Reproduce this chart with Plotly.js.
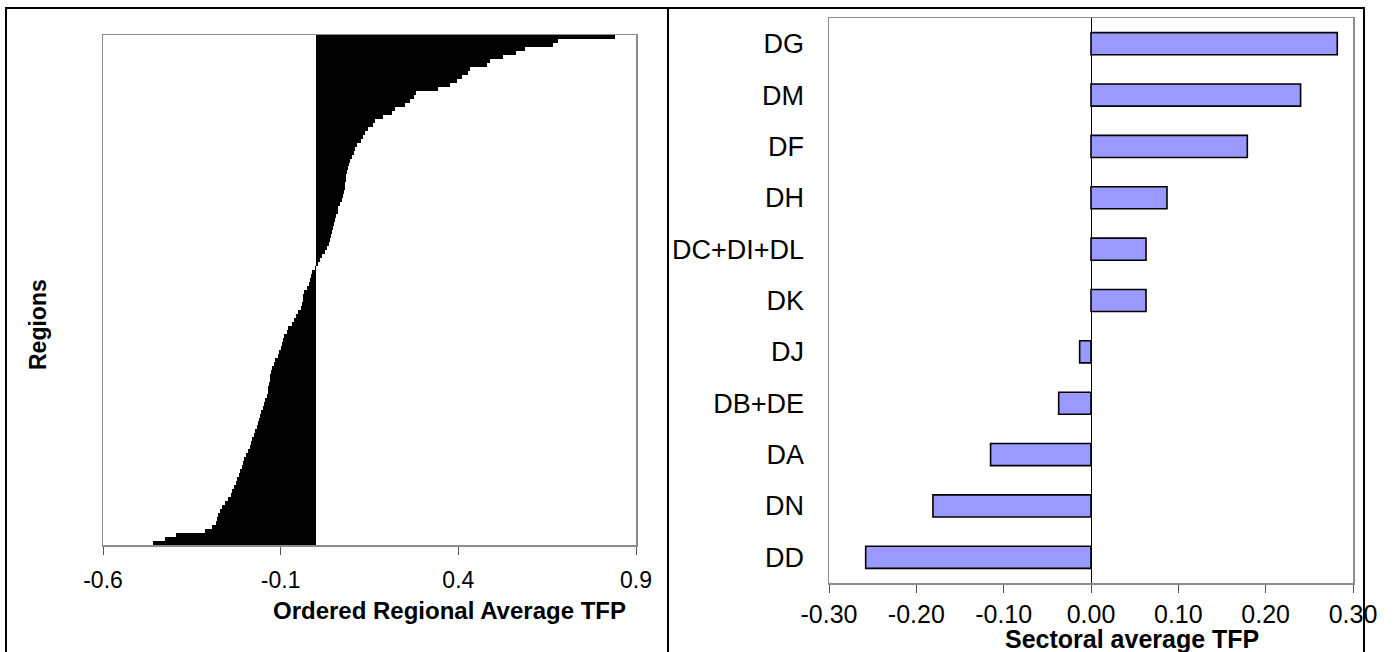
<!DOCTYPE html>
<html>
<head>
<meta charset="utf-8">
<script src="https://cdn.plot.ly/plotly-3.0.1.min.js"></script>
<style>
html,body{margin:0;padding:0;background:#fff;}
#chart{width:1394px;height:652px;}
</style>
</head>
<body>
<div id="chart"></div>
<script>
// Left panel: ordered regional average TFP (top bar first, descending)
const regionalTFP = [
  0.84, 0.68, 0.667, 0.588, 0.563, 0.527, 0.49, 0.482, 0.433, 0.426,
  0.41, 0.397, 0.377, 0.344, 0.281, 0.276, 0.265, 0.25, 0.222, 0.213,
  0.188, 0.165, 0.16, 0.147, 0.138, 0.133, 0.126, 0.115, 0.11, 0.105,
  0.10, 0.094, 0.092, 0.09, 0.087, 0.085, 0.084, 0.082, 0.08, 0.077,
  0.075, 0.073, 0.068, 0.062, 0.060, 0.057, 0.054, 0.051, 0.047, 0.045,
  0.043, 0.040, 0.037, 0.030, 0.024, 0.015, 0.010, 0.005,
  -0.004, -0.012, -0.015, -0.017, -0.021, -0.027, -0.033, -0.036, -0.038, -0.041,
  -0.043, -0.051, -0.058, -0.062, -0.069, -0.078, -0.083, -0.091, -0.093, -0.097,
  -0.100, -0.105, -0.108, -0.115, -0.118, -0.124, -0.127, -0.129, -0.131, -0.133,
  -0.135, -0.136, -0.138, -0.145, -0.148, -0.151, -0.155, -0.158, -0.161, -0.165,
  -0.168, -0.172, -0.175, -0.180, -0.183, -0.187, -0.193, -0.197, -0.203, -0.207,
  -0.209, -0.214, -0.217, -0.222, -0.226, -0.232, -0.236, -0.240, -0.247, -0.258,
  -0.266, -0.271, -0.277, -0.279, -0.281, -0.294, -0.313, -0.395, -0.426, -0.46
];
const leftTickVals = [-0.6, -0.1, 0.4, 0.9];
const leftTickText = ["-0.6", "-0.1", "0.4", "0.9"];

// Right panel: sectoral average TFP (top to bottom)
const sectors = ["DG", "DM", "DF", "DH", "DC+DI+DL", "DK", "DJ", "DB+DE", "DA", "DN", "DD"];
const sectorTFP = [0.282, 0.240, 0.179, 0.087, 0.063, 0.063, -0.013, -0.037, -0.115, -0.181, -0.258];
const rightTickVals = [-0.3, -0.2, -0.1, 0.0, 0.1, 0.2, 0.3];
const rightTickText = ["-0.30", "-0.20", "-0.10", "0.00", "0.10", "0.20", "0.30"];

const W = 1394, H = 652;
const px = v => v / W;
const py = v => 1 - v / H;
const FONT = "Liberation Sans, Arial, sans-serif";

const traces = [
  {
    type: "bar", orientation: "h",
    x: regionalTFP,
    xaxis: "x", yaxis: "y",
    marker: {color: "#000000", line: {width: 0}},
    hoverinfo: "x"
  },
  {
    type: "bar", orientation: "h",
    x: sectorTFP, y: sectors,
    xaxis: "x2", yaxis: "y2",
    width: 0.43,
    marker: {color: "#9999FF", line: {color: "#000000", width: 1.6}},
    hoverinfo: "x+y"
  }
];

const layout = {
  width: W, height: H,
  margin: {l: 0, r: 0, t: 0, b: 0},
  paper_bgcolor: "#ffffff", plot_bgcolor: "#ffffff",
  showlegend: false,
  bargap: 0,
  font: {family: FONT, size: 17, color: "#000"},
  xaxis: {
    domain: [px(103), px(636)],
    anchor: "y",
    range: [-0.6, 0.9],
    tickvals: leftTickVals, ticktext: leftTickText,
    ticks: "outside", ticklen: 8, tickcolor: "#555", tickwidth: 1,
    showline: true, linecolor: "#8c8c8c", linewidth: 1.5, mirror: true,
    showgrid: false, zeroline: false,
    ticklabelstandoff: 6,
    tickfont: {family: FONT, size: 23, color: "#000"}
  },
  yaxis: {
    domain: [py(545), py(35)],
    anchor: "x",
    range: [regionalTFP.length - 0.5, -0.5],
    showticklabels: false, ticks: "",
    showline: true, linecolor: "#8c8c8c", linewidth: 1.5, mirror: true,
    showgrid: false, zeroline: false
  },
  xaxis2: {
    domain: [px(829), px(1353)],
    anchor: "y2",
    range: [-0.3, 0.3],
    tickvals: rightTickVals, ticktext: rightTickText,
    ticks: "outside", ticklen: 8, tickcolor: "#555", tickwidth: 1,
    showline: true, linecolor: "#8c8c8c", linewidth: 1.5, mirror: true,
    showgrid: false,
    zeroline: true, zerolinecolor: "#000", zerolinewidth: 1,
    ticklabelstandoff: 0,
    tickfont: {family: FONT, size: 25, color: "#000"}
  },
  yaxis2: {
    domain: [py(583), py(18)],
    anchor: "x2",
    autorange: "reversed",
    type: "category",
    ticks: "", ticklabelstandoff: 18,
    showline: true, linecolor: "#8c8c8c", linewidth: 1.5, mirror: true,
    showgrid: false, zeroline: false,
    tickfont: {family: FONT, size: 27, color: "#000"}
  },
  annotations: [
    {text: "<b>Ordered Regional Average TFP</b>", xref: "paper", yref: "paper",
     x: px(628), y: py(610), xanchor: "right", yanchor: "middle", showarrow: false,
     font: {family: FONT, size: 24, color: "#000"}},
    {text: "<b>Sectoral average TFP</b>", xref: "paper", yref: "paper",
     x: px(1132), y: py(639), xanchor: "center", yanchor: "middle", showarrow: false,
     font: {family: FONT, size: 25, color: "#000"}},
    {text: "<b>Regions</b>", xref: "paper", yref: "paper",
     x: px(38), y: py(325), xanchor: "center", yanchor: "middle", showarrow: false,
     textangle: -90,
     font: {family: FONT, size: 23, color: "#000"}}
  ],
  shapes: [
    {type: "rect", xref: "paper", yref: "paper", layer: "above",
     x0: px(6), x1: px(1364), y0: -0.01, y1: py(8),
     line: {color: "#000", width: 2}, fillcolor: "rgba(0,0,0,0)"},
    {type: "line", xref: "paper", yref: "paper", layer: "above",
     x0: px(668), x1: px(668), y0: -0.01, y1: py(8),
     line: {color: "#000", width: 2}}
  ]
};

Plotly.newPlot("chart", traces, layout, {displayModeBar: false, staticPlot: true});
</script>
</body>
</html>
